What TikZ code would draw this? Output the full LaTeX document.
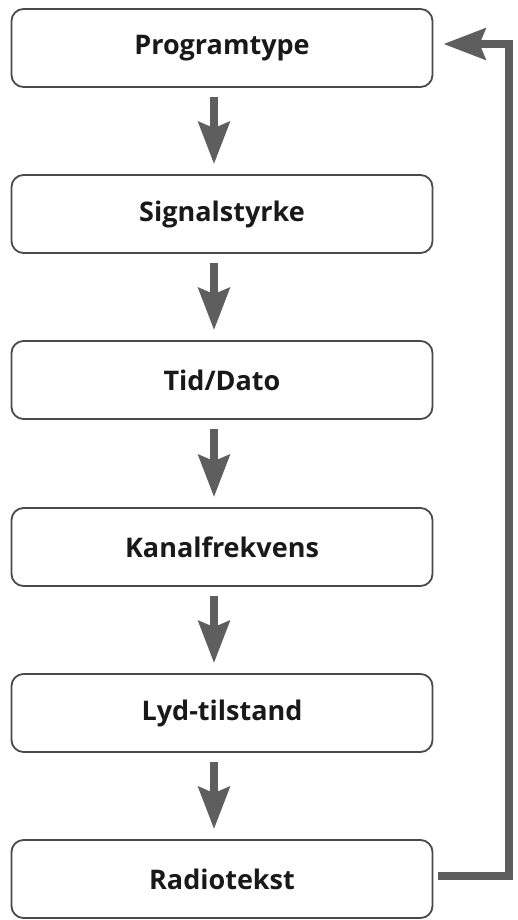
\documentclass[tikz,border=0pt]{standalone}
\usepackage{fontspec}
\setmainfont{Open Sans}
\usepackage{xcolor}
\usetikzlibrary{arrows.meta,positioning,calc}
\definecolor{boxline}{HTML}{4A4A4A}
\definecolor{arrgray}{HTML}{5E5E5E}
\tikzset{
  box/.style ={draw=boxline, line width=1.8pt, rounded corners=12pt, minimum width=421pt, minimum height=78pt, font=\fontsize{27}{32}\selectfont\bfseries, text=black!90, fill=white},
  arr/.style ={-{Stealth[length=42pt, width=31pt, inset=6pt]}, line width=8pt, draw=arrgray},
}

\begin{document}
\begin{tikzpicture}[x=1pt, y=-1pt]
  \useasboundingbox (0,0) rectangle (517,920);
  % --- the six display steps ---
  \node[box] (p1) at (222,48)  {Programtype};
  \node[box] (p2) at (222,214) {Signalstyrke};
  \node[box] (p3) at (222,380) {Tid/Dato};
  \node[box] (p4) at (222,547) {Kanalfrekvens};
  \node[box] (p5) at (222,713) {Lyd-tilstand};
  \node[box] (p6) at (222,879) {Radiotekst};
  % --- downward steps ---
  \foreach \a/\b in {1/2,2/3,3/4,4/5,5/6}
    \draw[arr, shorten <=9pt, shorten >=10pt] ([xshift=-8pt]p\a.south) -- ([xshift=-8pt]p\b.north);
  % --- back to the top ---
  \draw[arr] ([xshift=5pt,yshift=3pt]p6.east) -| ([xshift=76pt,yshift=4pt]p1.east) -- ([xshift=10pt,yshift=4pt]p1.east);
\end{tikzpicture}
\end{document}
